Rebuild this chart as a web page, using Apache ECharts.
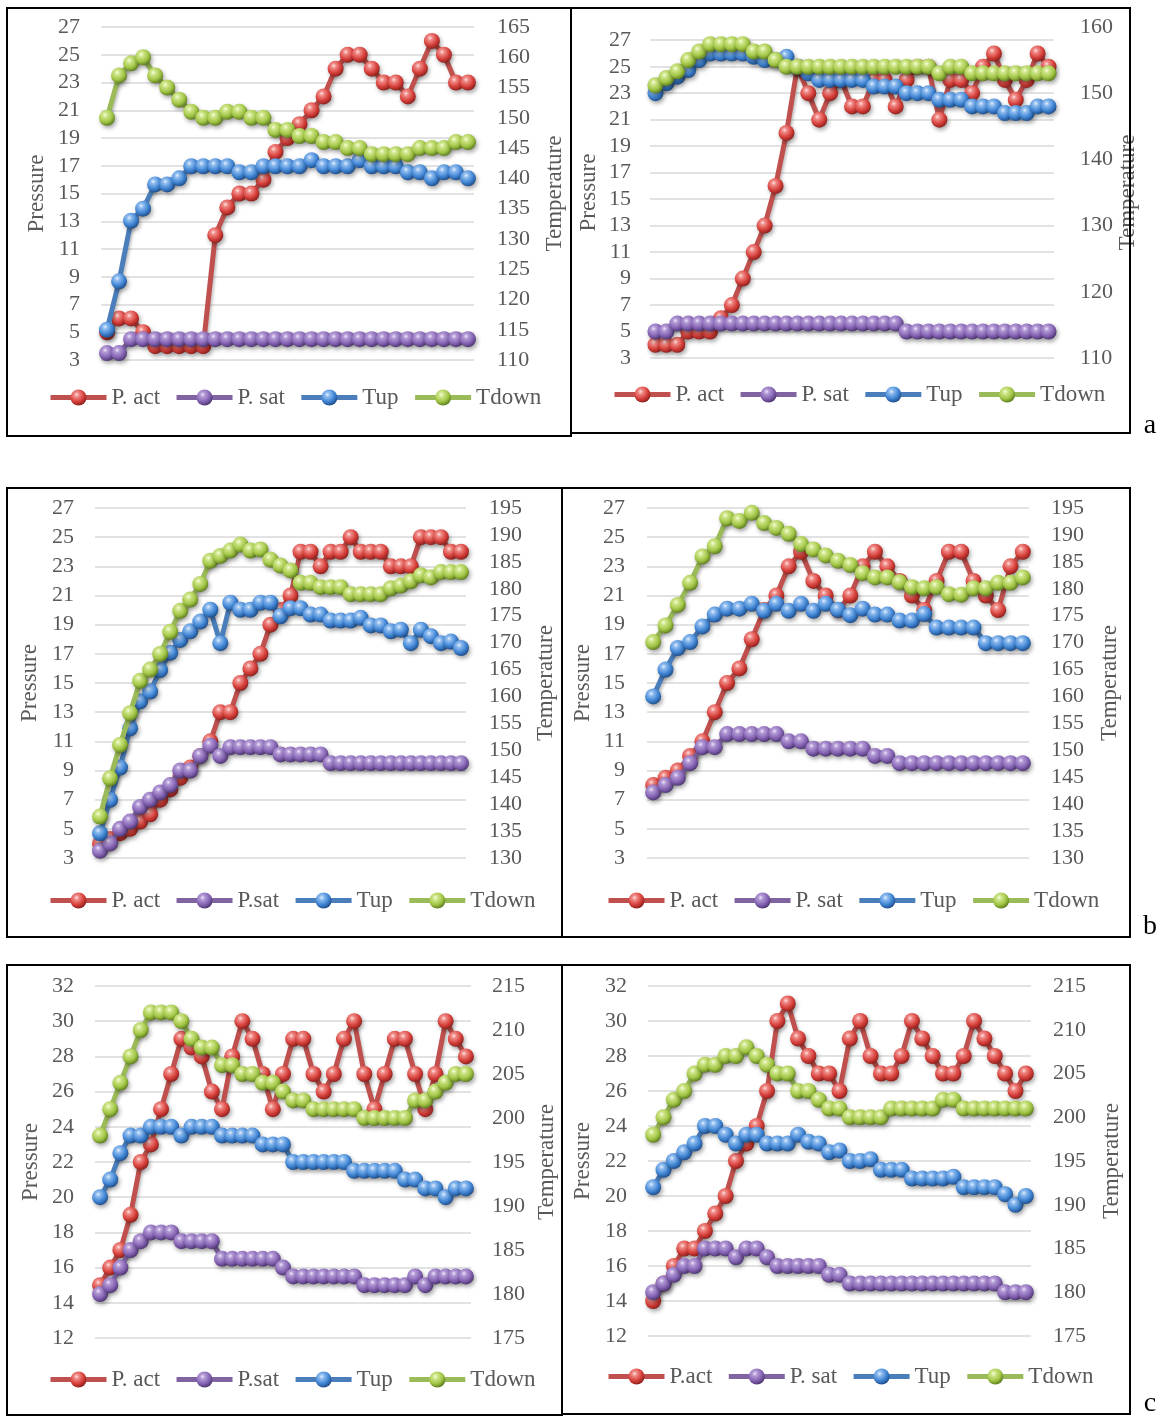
<!DOCTYPE html>
<html>
<head>
<meta charset="utf-8">
<title>Pressure / temperature panels</title>
<script src="https://cdn.jsdelivr.net/npm/echarts@6/dist/echarts.min.js"></script>
<style>
  html, body { margin: 0; padding: 0; background: #fff; }
  #chart { width: 1161px; height: 1416px; }
</style>
</head>
<body>
<div id="chart"></div>
<script>
// ---- data (pressure on left axis, temperature on right axis) ----
// panel a, left
var aLeftPact  = [5, 6, 6, 5, 4, 4, 4, 4, 4, 12, 14, 15, 15, 16, 18, 19, 20, 21, 22, 24, 25, 25, 24, 23, 23, 22, 24, 26, 25, 23, 23];
var aLeftPsat  = [3.5, 3.5, 4.5, 4.5, 4.5, 4.5, 4.5, 4.5, 4.5, 4.5, 4.5, 4.5, 4.5, 4.5, 4.5, 4.5, 4.5, 4.5, 4.5, 4.5, 4.5, 4.5, 4.5, 4.5, 4.5, 4.5, 4.5, 4.5, 4.5, 4.5, 4.5];
var aLeftTup   = [115, 123, 133, 135, 139, 139, 140, 142, 142, 142, 142, 141, 141, 142, 142, 142, 142, 143, 142, 142, 142, 143, 142, 142, 142, 141, 141, 140, 141, 141, 140];
var aLeftTdown = [150, 157, 159, 160, 157, 155, 153, 151, 150, 150, 151, 151, 150, 150, 148, 148, 147, 147, 146, 146, 145, 145, 144, 144, 144, 144, 145, 145, 145, 146, 146];

// panel a, right
var aRightPact  = [4, 4, 4, 5, 5, 5, 6, 7, 9, 11, 13, 16, 20, 25, 23, 21, 23, 24, 22, 22, 24, 24, 22, 24, 25, 25, 21, 24, 24, 23, 25, 26, 24, 22.5, 24, 26, 25];
var aRightPsat  = [5, 5, 5.6, 5.6, 5.6, 5.6, 5.6, 5.6, 5.6, 5.6, 5.6, 5.6, 5.6, 5.6, 5.6, 5.6, 5.6, 5.6, 5.6, 5.6, 5.6, 5.6, 5.6, 5, 5, 5, 5, 5, 5, 5, 5, 5, 5, 5, 5, 5, 5];
var aRightTup   = [150, 151.5, 152.5, 153.5, 155, 156, 156, 156, 156, 155.5, 155, 155, 155.5, 154, 153, 152, 152, 152, 152, 152, 151, 151, 151, 150, 150, 150, 149, 149, 149, 148, 148, 148, 147, 147, 147, 148, 148];
var aRightTdown = [151.2, 152.3, 153.3, 155, 156.3, 157.4, 157.4, 157.4, 157.4, 156.3, 156.3, 155, 154, 154, 154, 154, 154, 154, 154, 154, 154, 154, 154, 154, 154, 154, 153, 154, 154, 153, 153, 153, 153, 153, 153, 153, 153];

// panel b, left
var bLeftPact  = [4, 4.3, 4.7, 5, 5.5, 6, 7, 7.7, 8.5, 9.2, 10, 11, 13, 13, 15, 16, 17, 19, 20, 21, 24, 24, 23, 24, 24, 25, 24, 24, 24, 23, 23, 23, 25, 25, 25, 24, 24];
var bLeftPsat  = [3.5, 4, 5, 5.5, 6.5, 7, 7.5, 8, 9, 9, 10, 10.7, 10, 10.6, 10.6, 10.6, 10.6, 10.6, 10.1, 10.1, 10.1, 10.1, 10.1, 9.5, 9.5, 9.5, 9.5, 9.5, 9.5, 9.5, 9.5, 9.5, 9.5, 9.5, 9.5, 9.5, 9.5];
var bLeftTup   = [134.6, 140.8, 146.8, 154.1, 159.1, 160.9, 164.9, 168.1, 170.5, 172.1, 173.9, 176.1, 169.9, 177.4, 176.1, 176.1, 177.4, 177.4, 174.9, 176.4, 176.4, 175.2, 175.2, 174.1, 174.1, 174.1, 174.6, 173.2, 173.2, 172.1, 172.4, 169.9, 172.4, 171.2, 169.9, 170.2, 169];
var bLeftTdown = [137.7, 144.8, 151, 156.9, 162.9, 165, 167.9, 172, 175.9, 178, 180.9, 185.2, 186.1, 187.1, 188.2, 187.1, 187.3, 185.4, 184.3, 183.4, 181.1, 181.1, 180.3, 180.3, 180.3, 179, 179, 179, 179, 180.1, 180.6, 181.4, 182.5, 182.1, 183.1, 183.1, 183.1];

// panel b, right
var bRightPact  = [8, 8.5, 9, 10, 11, 13, 15, 16, 18, 20, 21, 23, 24, 22, 21, 20, 21, 23, 24, 23, 22, 21, 20, 22, 24, 24, 22, 21, 20, 23, 24];
var bRightPsat  = [7.5, 8, 8.5, 9.5, 10.6, 10.6, 11.5, 11.5, 11.5, 11.5, 11.5, 11, 11, 10.5, 10.5, 10.5, 10.5, 10.5, 10, 10, 9.5, 9.5, 9.5, 9.5, 9.5, 9.5, 9.5, 9.5, 9.5, 9.5, 9.5];
var bRightTup   = [160, 165, 169, 170.1, 173, 175.2, 176.3, 176.3, 177.2, 175.9, 177.2, 175.9, 177.2, 175.9, 177.2, 176.1, 175.1, 176.3, 175.2, 175.2, 174.1, 174.1, 175.3, 172.8, 172.8, 172.8, 172.8, 169.9, 169.9, 169.9, 169.9];
var bRightTdown = [170.1, 173.2, 177, 181.1, 186, 187.9, 193.1, 192.6, 194.1, 192.2, 191.3, 190.2, 188.3, 187.3, 186.2, 185.2, 184.4, 182.9, 182.1, 182.1, 181.2, 180.3, 180.1, 180.3, 179, 178.9, 180.1, 180.1, 181.1, 181.1, 182.1];

// panel c, left
var cLeftPact  = [15, 16, 17, 19, 22, 23, 25, 27, 29, 28.5, 28, 26, 25, 28, 30, 29, 27, 25, 27, 29, 29, 27, 26, 27, 29, 30, 27, 25, 27, 29, 29, 27, 25, 27, 30, 29, 28];
var cLeftPsat  = [14.5, 15, 16, 17, 17.5, 18, 18, 18, 17.5, 17.5, 17.5, 17.5, 16.5, 16.5, 16.5, 16.5, 16.5, 16.5, 16, 15.5, 15.5, 15.5, 15.5, 15.5, 15.5, 15.5, 15, 15, 15, 15, 15, 15.5, 15, 15.5, 15.5, 15.5, 15.5];
var cLeftTup   = [191, 193, 196, 198, 198, 199, 199, 199, 198, 199, 199, 199, 198, 198, 198, 198, 197, 197, 197, 195, 195, 195, 195, 195, 195, 194, 194, 194, 194, 194, 193, 193, 192, 192, 191, 192, 192];
var cLeftTdown = [198, 201, 204, 207, 210, 212, 212, 212, 211, 209, 208, 208, 206, 206, 205, 205, 204, 204, 203, 202, 202, 201, 201, 201, 201, 201, 200, 200, 200, 200, 200, 202, 202, 203, 204, 205, 205];

// panel c, right
var cRightPact  = [14, 15, 16, 17, 17, 18, 19, 20, 22, 23, 24, 26, 30, 31, 29, 28, 27, 27, 26, 29, 30, 28, 27, 27, 28, 30, 29, 28, 27, 27, 28, 30, 29, 28, 27, 26, 27];
var cRightPsat  = [14.5, 15, 15.5, 16, 16, 17, 17, 17, 16.5, 17, 17, 16.5, 16, 16, 16, 16, 16, 15.5, 15.5, 15, 15, 15, 15, 15, 15, 15, 15, 15, 15, 15, 15, 15, 15, 15, 14.5, 14.5, 14.5];
var cRightTup   = [192, 194, 195, 196, 197, 199, 199, 198, 197, 198, 198, 197, 197, 197, 198, 197.2, 197, 196, 196.2, 195, 195, 195.2, 194, 194, 194, 193, 193, 193, 193, 193.2, 192, 192, 192, 192, 191.2, 190, 191];
var cRightTdown = [198, 200, 202, 203, 205, 206, 206, 207, 207, 208, 207, 206, 205, 205, 203, 203, 202, 201, 201, 200, 200, 200, 200, 201, 201, 201, 201, 201, 202, 202, 201, 201, 201, 201, 201, 201, 201];

// axis ranges [min, max, step]
var pressureAB = [3, 27, 2];
var pressureARight = [3, 28, 2];
var pressureC = [12, 32, 2];
var tempALeft = [110, 165, 5];
var tempARight = [110, 160, 10];
var tempB = [130, 195, 5];
var tempC = [175, 215, 5];

// ---- styling ----
var FONT = '"Liberation Serif", "Times New Roman", serif';
var TEXT = '#595959';
var LINE_COLORS = ['#c0504d', '#8064a2', '#4a7ebb', '#9bbb59'];
var BALL_COLORS = [
    ['#fde3e1', '#f08a86', '#d63f3a', '#7e1a17'],
    ['#efe6fa', '#b39ad6', '#8563b3', '#412c64'],
    ['#e3effc', '#8dbbef', '#3f84d3', '#19427a'],
    ['#f8fdde', '#cfe68a', '#a1c545', '#506e17']
];

function ball(c) {
    return {
        type: 'radial', x: 0.38, y: 0.32, r: 0.75,
        colorStops: [
            { offset: 0, color: c[0] },
            { offset: 0.2, color: c[1] },
            { offset: 0.6, color: c[2] },
            { offset: 1, color: c[3] }
        ]
    };
}

// layout of each panel: plot rect, axis ranges, legend anchor, name gaps
var panels = [
    { grid: [101, 27, 373, 333], p: pressureAB, t: tempALeft, names: ['P. act', 'P. sat', 'Tup', 'Tdown'],
      data: [aLeftPact, aLeftPsat, aLeftTup, aLeftTdown], legend: [48, 399], gaps: [53, 69], margins: [21, 23] },
    { grid: [650, 27, 404, 331], p: pressureARight, t: tempARight, names: ['P. act', 'P. sat', 'Tup', 'Tdown'],
      data: [aRightPact, aRightPsat, aRightTup, aRightTdown], legend: [612, 396], gaps: [50, 51], margins: [19, 26] },
    { grid: [95, 508, 371, 350], p: pressureAB, t: tempB, names: ['P. act', 'P.sat', 'Tup', 'Tdown'],
      data: [bLeftPact, bLeftPsat, bLeftTup, bLeftTdown], legend: [48, 902], gaps: [54, 68], margins: [21, 23] },
    { grid: [647, 508, 382, 350], p: pressureAB, t: tempB, names: ['P. act', 'P. sat', 'Tup', 'Tdown'],
      data: [bRightPact, bRightPsat, bRightTup, bRightTdown], legend: [606, 902], gaps: [53, 69], margins: [22, 22] },
    { grid: [95, 986, 376, 352], p: pressureC, t: tempC, names: ['P. act', 'P.sat', 'Tup', 'Tdown'],
      data: [cLeftPact, cLeftPsat, cLeftTup, cLeftTdown], legend: [48, 1381], gaps: [53, 64], margins: [21, 21] },
    { grid: [648, 986, 383, 350], p: pressureC, t: tempC, names: ['P.act', 'P. sat', 'Tup', 'Tdown'],
      data: [cRightPact, cRightPsat, cRightTup, cRightTdown], legend: [606, 1378], gaps: [54, 69], margins: [21, 22] }
];

var grids = [], xAxes = [], yAxes = [], series = [], legends = [];

panels.forEach(function (pn, i) {
    grids.push({ left: pn.grid[0], top: pn.grid[1], width: pn.grid[2], height: pn.grid[3], containLabel: false });
    xAxes.push({
        type: 'category', gridIndex: i, show: false, boundaryGap: true,
        data: pn.data[0].map(function (v, k) { return k + 1; })
    });
    var nameStyle = { fontFamily: FONT, fontSize: 23, color: TEXT };
    yAxes.push({
        type: 'value', gridIndex: i, position: 'left',
        min: pn.p[0], max: pn.p[1], interval: pn.p[2],
        name: 'Pressure', nameLocation: 'middle', nameRotate: 90, nameGap: pn.gaps[0], nameTextStyle: nameStyle,
        axisLine: { show: false }, axisTick: { show: false },
        axisLabel: { margin: pn.margins[0], fontFamily: FONT, fontSize: 22, color: TEXT, showMaxLabel: pn.p[1] === 28 ? false : null },
        splitLine: { show: true, showMaxLine: pn.p[1] !== 28, lineStyle: { color: '#d9d9d9', width: 1.5 } }
    });
    yAxes.push({
        type: 'value', gridIndex: i, position: 'right',
        min: pn.t[0], max: pn.t[1], interval: pn.t[2],
        name: 'Temperature', nameLocation: 'middle', nameRotate: 90, nameGap: pn.gaps[1], nameTextStyle: nameStyle,
        axisLine: { show: false }, axisTick: { show: false },
        axisLabel: { margin: pn.margins[1], fontFamily: FONT, fontSize: 22, color: TEXT },
        splitLine: { show: false }
    });
    pn.names.forEach(function (nm, s) {
        series.push({
            type: 'line', name: nm,
            xAxisIndex: i, yAxisIndex: i * 2 + (s < 2 ? 0 : 1),
            data: pn.data[s],
            symbol: 'circle', symbolSize: 16, showAllSymbol: true,
            lineStyle: { color: LINE_COLORS[s], width: 5, shadowColor: 'rgba(0,0,0,0.25)', shadowBlur: 3, shadowOffsetX: 1.5, shadowOffsetY: 2.5 },
            itemStyle: { color: ball(BALL_COLORS[s]), borderWidth: 0, shadowColor: 'rgba(0,0,0,0.35)', shadowBlur: 4, shadowOffsetX: 1.5, shadowOffsetY: 2.5 },
            emphasis: { disabled: true },
            silent: true, z: 2 + s * 0.01
        });
    });
    legends.push({
        data: pn.names, left: pn.legend[0], top: pn.legend[1] - 13, padding: 0,
        orient: 'horizontal', itemWidth: 56, itemHeight: 20, itemGap: 14,
        selectedMode: false,
        lineStyle: { width: 5 },
        textStyle: { fontFamily: FONT, fontSize: 23, color: TEXT }
    });
});

// panel frames and the a/b/c tags
var frames = [
    [7, 8, 564, 428], [571, 8, 559, 425],
    [7, 488, 555, 449], [562, 488, 568, 449],
    [7, 965, 555, 450], [562, 965, 568, 449]
];
var graphics = frames.map(function (f) {
    return { type: 'rect', silent: true, z: 100,
        shape: { x: f[0], y: f[1], width: f[2], height: f[3] },
        style: { fill: null, stroke: '#000', lineWidth: 2 } };
});
[['a', 426], ['b', 927], ['c', 1404]].forEach(function (t) {
    graphics.push({ type: 'text', silent: true, z: 100, x: 1150, y: t[1],
        style: { text: t[0], fontFamily: FONT, fontSize: 28, fill: '#000', align: 'center', verticalAlign: 'middle' } });
});

var chart = echarts.init(document.getElementById('chart'), null, { renderer: 'canvas' });
chart.setOption({
    backgroundColor: '#ffffff',
    animation: false,
    grid: grids,
    xAxis: xAxes,
    yAxis: yAxes,
    legend: legends,
    series: series,
    graphic: graphics
});
</script>
</body>
</html>
